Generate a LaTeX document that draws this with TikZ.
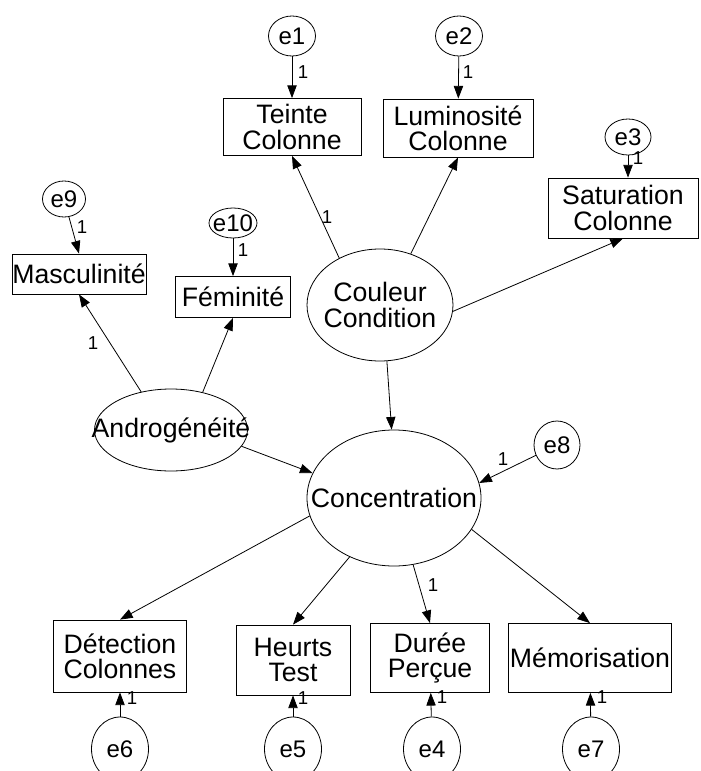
\documentclass[tikz,border=0pt]{standalone}
\usepackage{fontspec}
\setmainfont{Liberation Sans}
\usetikzlibrary{arrows.meta,shapes.geometric}

\begin{document}
\begin{tikzpicture}[x=0.75pt,y=0.75pt,yscale=-1,xscale=1,
  obs/.style={draw,rectangle,inner sep=0pt,align=center,line width=0.6pt,font=\fontsize{20}{19}\selectfont},
  lat/.style={draw,ellipse,inner sep=0pt,line width=0.6pt,label={[font=\fontsize{20}{19.5}\selectfont,align=center]center:#1}},
  err/.style={draw,ellipse,inner sep=0pt,line width=0.6pt,label={[font=\fontsize{18}{18}\selectfont]center:#1}},
  coef/.style={inner sep=0pt,font=\fontsize{14}{14}\selectfont},
  link/.style={line width=0.6pt,-{Triangle[length=9.5pt,width=7pt]}}]
\useasboundingbox (0,0) rectangle (700,771);

%Shape: Rectangle
\node[obs,minimum width=103.5pt,minimum height=42.75pt] (teinte) at (292,127) {Teinte\\Colonne};
\node[obs,minimum width=112.5pt,minimum height=43.5pt] (lumin) at (458,128) {Luminosité\\Colonne};
\node[obs,minimum width=112.5pt,minimum height=45pt] (satur) at (623,208) {Saturation\\Colonne};
\node[obs,minimum width=100.5pt,minimum height=30pt] (mascu) at (79,274) {Masculinité};
\node[obs,minimum width=86.25pt,minimum height=30.75pt] (femin) at (233,297) {Féminité};
\node[obs,minimum width=99.75pt,minimum height=54pt] (detect) at (120,656) {Détection\\Colonnes};
\node[obs,minimum width=85.5pt,minimum height=52.5pt] (heurts) at (293,660) {Heurts\\Test};
\node[obs,minimum width=89.25pt,minimum height=51.75pt] (duree) at (430,658) {Durée\\Perçue};
\node[obs,minimum width=122.25pt,minimum height=51.75pt] (memo) at (590,658) {Mémorisation};

%Shape: Ellipse
\node[lat={Couleur\\Condition},minimum width=109.5pt,minimum height=84pt] (couleur) at (380,305) {};
\node[lat={Androgénéité},minimum width=114.75pt,minimum height=61.5pt] (andro) at (171,430) {};
\node[lat={Concentration},minimum width=130.5pt,minimum height=102pt] (conc) at (394,498) {};

%Shape: Circle
\node[err={e1},minimum width=35.25pt,minimum height=30pt] (e1) at (292,36) {};
\node[err={e2},minimum width=35.25pt,minimum height=30pt] (e2) at (459,36) {};
\node[err={e3},minimum width=34.5pt,minimum height=27pt] (e3) at (628,137) {};
\node[err={e9},minimum width=32.25pt,minimum height=27pt] (e9) at (64,199) {};
\node[err={e10},minimum width=36pt,minimum height=22.5pt] (e10) at (233,223) {};
\node[err={e8},minimum width=34.5pt,minimum height=36pt] (e8) at (557,445) {};
\node[err={e6},minimum width=42.75pt,minimum height=48pt] (e6) at (120,749) {};
\node[err={e5},minimum width=42.75pt,minimum height=48pt] (e5) at (293,749) {};
\node[err={e4},minimum width=42.75pt,minimum height=48pt] (e4) at (432,749) {};
\node[err={e7},minimum width=42.75pt,minimum height=48pt] (e7) at (591,749) {};

%Straight Lines
\draw[link] (e1) -- (teinte);
\draw[link] (e2) -- (lumin);
\draw[link] (e3) -- (e3 |- satur.north);
\draw[link] (e9) -- (mascu.north);
\draw[link] (e10) -- (femin);
\draw[link] (e8) -- (conc.10);
\draw[link] (e6) -- (detect);
\draw[link] (e5) -- (heurts);
\draw[link] (e4) -- (duree);
\draw[link] (e7) -- (memo);
%Straight Lines
\draw[link] (couleur.131) -- (teinte.south);
\draw[link] (couleur.59) -- (lumin.south);
\draw[link] (couleur.-5) -- (satur.south);
\draw[link] (couleur.-83) -- (conc.92);
\draw[link] (andro.128) -- (mascu.south);
\draw[link] (andro.50) -- (femin.south);
\draw[link] (andro.-13) -- (conc.163);
\draw[link] (conc.192) -- (detect.north);
\draw[link] (conc.233) -- (heurts.north);
\draw[link] (conc.-74) -- (duree.north);
\draw[link] (conc.-22) -- (memo.north);

% Text Node
\node[coef] (w1) at (303,72) {1};
\node[coef] (w2) at (468,72) {1};
\node[coef] (w3) at (638,158) {1};
\node[coef] (w9) at (82,227) {1};
\node[coef] (w10) at (243,250) {1};
\node[coef] (w8) at (503,459) {1};
\node[coef] (wmascu) at (93,343) {1};
\node[coef] (wteinte) at (327,217) {1};
\node[coef] (wduree) at (433,585) {1};
\node[coef] (w6) at (132,698) {1};
\node[coef] (w5) at (303,698) {1};
\node[coef] (w4) at (442,697) {1};
\node[coef] (w7) at (602,697) {1};
\end{tikzpicture}
\end{document}
